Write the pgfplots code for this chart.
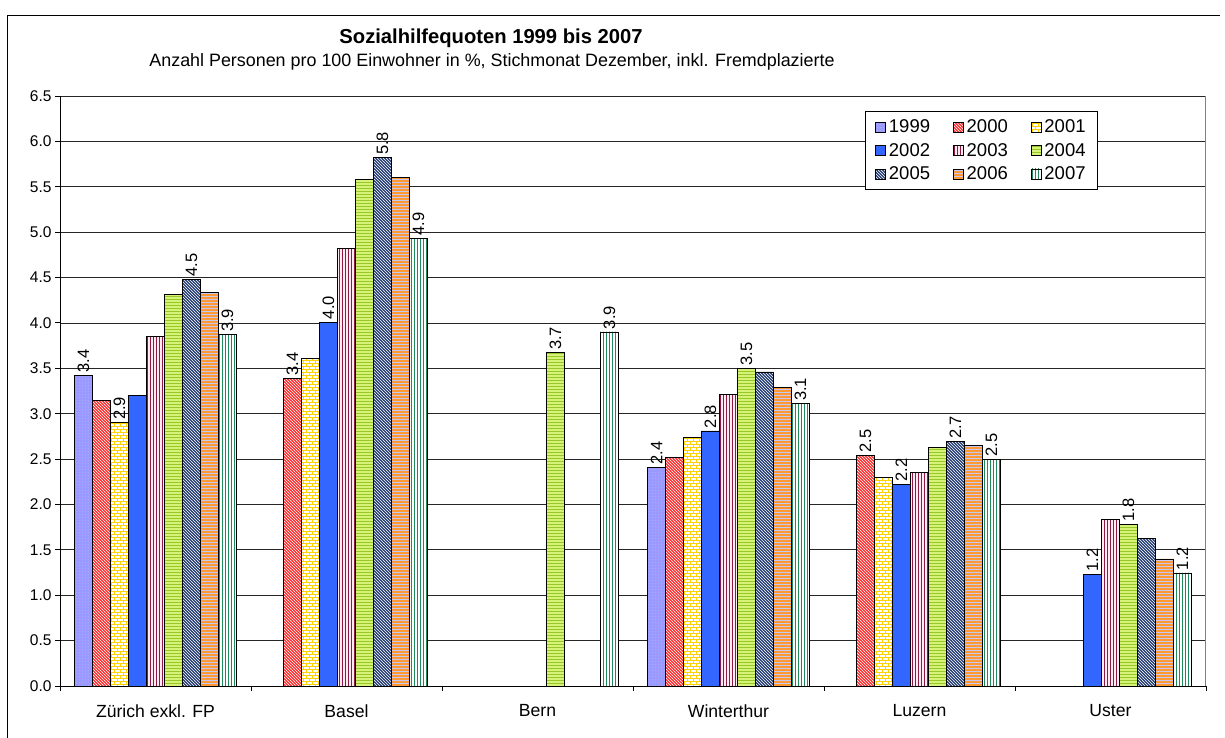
\documentclass[border=0pt]{standalone}
\usepackage{fontspec}
\setmainfont{Liberation Sans}
\usepackage{pgfplots}
\pgfplotsset{compat=1.18}
\usetikzlibrary{patterns}

\pgfdeclarepatternformonly{pdots}{\pgfpointorigin}{\pgfqpoint{3pt}{3pt}}{\pgfqpoint{3pt}{3pt}}{\pgfpathcircle{\pgfqpoint{1.5pt}{1.5pt}}{0.6pt}\pgfusepath{fill}}
\pgfdeclarepatternformonly{pnw}{\pgfqpoint{-1pt}{-1pt}}{\pgfqpoint{4pt}{4pt}}{\pgfqpoint{3pt}{3pt}}{\pgfsetlinewidth{0.5pt}\pgfpathmoveto{\pgfqpoint{-0.1pt}{3.1pt}}\pgfpathlineto{\pgfqpoint{3.1pt}{-0.1pt}}\pgfusepath{stroke}}
\pgfdeclarepatternformonly{pnwb}{\pgfqpoint{-1pt}{-1pt}}{\pgfqpoint{4pt}{4pt}}{\pgfqpoint{3pt}{3pt}}{\pgfsetlinewidth{0.6pt}\pgfpathmoveto{\pgfqpoint{-0.1pt}{3.1pt}}\pgfpathlineto{\pgfqpoint{3.1pt}{-0.1pt}}\pgfusepath{stroke}}
\pgfdeclarepatternformonly{pbricks}{\pgfqpoint{-0.5pt}{-0.5pt}}{\pgfqpoint{6.5pt}{6.5pt}}{\pgfqpoint{6pt}{6pt}}{\pgfsetlinewidth{0.9pt}%
\pgfpathmoveto{\pgfqpoint{-0.5pt}{0pt}}\pgfpathlineto{\pgfqpoint{6.5pt}{0pt}}%
\pgfpathmoveto{\pgfqpoint{-0.5pt}{3pt}}\pgfpathlineto{\pgfqpoint{6.5pt}{3pt}}%
\pgfpathmoveto{\pgfqpoint{0pt}{0pt}}\pgfpathlineto{\pgfqpoint{0pt}{3pt}}%
\pgfpathmoveto{\pgfqpoint{3pt}{3pt}}\pgfpathlineto{\pgfqpoint{3pt}{6pt}}%
\pgfusepath{stroke}}
\pgfdeclarepatternformonly{pvl}{\pgfqpoint{0pt}{-2pt}}{\pgfqpoint{3pt}{5pt}}{\pgfqpoint{3pt}{3pt}}{\pgfpathrectangle{\pgfqpoint{0pt}{-2pt}}{\pgfqpoint{1.4pt}{7pt}}\pgfusepath{fill}}
\pgfdeclarepatternformonly{phl}{\pgfqpoint{-2pt}{0pt}}{\pgfqpoint{5pt}{3pt}}{\pgfqpoint{3pt}{3pt}}{\pgfpathrectangle{\pgfqpoint{-2pt}{0pt}}{\pgfqpoint{7pt}{1.3pt}}\pgfusepath{fill}}

\definecolor{f1999}{RGB}{153,153,255}
\definecolor{p1999}{RGB}{210,210,255}
\definecolor{f2000}{RGB}{255,40,40}
\definecolor{p2001}{RGB}{255,210,0}
\definecolor{f2002}{RGB}{51,102,255}
\definecolor{f2003}{RGB}{255,235,240}
\definecolor{p2003}{RGB}{140,25,70}
\definecolor{f2004}{RGB}{215,242,120}
\definecolor{p2004}{RGB}{150,200,40}
\definecolor{f2005}{RGB}{30,55,110}
\definecolor{f2006}{RGB}{255,153,51}
\definecolor{p2006}{RGB}{200,200,240}
\definecolor{p2007}{RGB}{30,140,90}

\begin{document}
\begin{tikzpicture}[x=1pt,y=1pt]
\useasboundingbox (0,0) rectangle (1225,738);
\draw[black,line width=1pt] (7,0) -- (7,722) -- (1220,722);
\node[font=\fontsize{20.2}{24}\selectfont\bfseries] at (491,700) {Sozialhilfequoten 1999 bis 2007};
\node[font=\fontsize{17.9}{21}\selectfont] at (492,676) {Anzahl Personen pro 100 Einwohner in \%, Stichmonat Dezember, inkl. Fremdplazierte};
\begin{axis}[
  at={(60pt,52pt)}, anchor=south west,
  scale only axis, width=1146pt, height=590pt,
  xmin=-0.5, xmax=5.5, ymin=0, ymax=6.5,
  ybar=0pt, bar width=18pt,
  axis x line=bottom, axis y line=left, axis line style={-, black, line width=0.9pt},
  xtick={-0.5,0.5,1.5,2.5,3.5,4.5,5.5}, xticklabels={},
  extra x ticks={0,1,2,3,4,5},
  extra x tick labels={Zürich exkl. FP,Basel,Bern,Winterthur,Luzern,Uster},
  extra x tick style={major tick length=0pt, grid=none, tick label style={yshift=-15pt, font=\fontsize{17.6}{20}\selectfont}},
  ytick={0,0.5,...,6.5},
  y tick label style={/pgf/number format/fixed, /pgf/number format/fixed zerofill, /pgf/number format/precision=1, /pgf/number format/assume math mode=true, font=\fontsize{15.5}{18}\selectfont},
  tick align=outside, major tick length=5pt, tick style={black, line width=0.9pt},
  ymajorgrids, major grid style={black!85, line width=0.7pt},
  point meta=explicit symbolic,
  every node near coord/.append style={rotate=90, anchor=west, inner sep=2.5pt, font=\fontsize{16.5}{19}\selectfont, black},
  legend columns=3,
  legend style={at={(0.7024,0.9746)}, anchor=north west, draw=black, line width=0.8pt, fill=white,
    font=\fontsize{18.5}{22}\selectfont, inner xsep=10pt, inner ysep=6.5pt, row sep=5pt,
    /tikz/every even column/.append style={column sep=21pt},
    /tikz/every odd column/.append style={column sep=1pt}},
  mybar/.style={draw=black, line width=0.8pt,
    legend image code/.code={\draw[##1, line width=0.6pt] (0pt,-5pt) rectangle (10pt,5pt);}},
]
\addplot[mybar, bar shift=-72pt, fill=f1999, postaction={pattern=pdots, pattern color=p1999}, nodes near coords]
  coordinates {(0,3.42) [3.4] (3,2.41) [2.4]};
\addplot[mybar, bar shift=-54pt, fill=f2000, postaction={pattern=pnw, pattern color=white}, nodes near coords]
  coordinates {(0,3.15) [] (1,3.39) [3.4] (3,2.52) [] (4,2.54) [2.5]};
\addplot[mybar, bar shift=-36pt, fill=white, postaction={pattern=pbricks, pattern color=p2001}, nodes near coords]
  coordinates {(0,2.90) [2.9] (1,3.61) [] (3,2.74) [] (4,2.30) []};
\addplot[mybar, bar shift=-18pt, fill=f2002, nodes near coords]
  coordinates {(0,3.20) [] (1,4.01) [4.0] (3,2.81) [2.8] (4,2.22) [2.2] (5,1.23) [1.2]};
\addplot[mybar, bar shift=0pt, fill=f2003, postaction={pattern=pvl, pattern color=p2003}]
  coordinates {(0,3.85) [] (1,4.82) [] (3,3.21) [] (4,2.35) [] (5,1.83) []};
\addplot[mybar, bar shift=18pt, fill=f2004, postaction={pattern=phl, pattern color=p2004}, nodes near coords]
  coordinates {(0,4.31) [] (1,5.58) [] (2,3.67) [3.7] (3,3.50) [3.5] (4,2.63) [] (5,1.78) [1.8]};
\addplot[mybar, bar shift=36pt, fill=f2005, postaction={pattern=pnwb, pattern color=white}, nodes near coords]
  coordinates {(0,4.48) [4.5] (1,5.82) [5.8] (3,3.46) [] (4,2.69) [2.7] (5,1.63) []};
\addplot[mybar, bar shift=54pt, fill=f2006, postaction={pattern=phl, pattern color=p2006}]
  coordinates {(0,4.34) [] (1,5.60) [] (3,3.29) [] (4,2.65) [] (5,1.40) []};
\addplot[mybar, bar shift=72pt, fill=white, postaction={pattern=pvl, pattern color=p2007}, nodes near coords]
  coordinates {(0,3.87) [3.9] (1,4.93) [4.9] (2,3.90) [3.9] (3,3.11) [3.1] (4,2.50) [2.5] (5,1.245) [1.2]};
\legend{1999,2000,2001,2002,2003,2004,2005,2006,2007}
\draw[black!50, line width=1pt] (rel axis cs:1,0) -- (rel axis cs:1,1);
\end{axis}
\end{tikzpicture}
\end{document}
